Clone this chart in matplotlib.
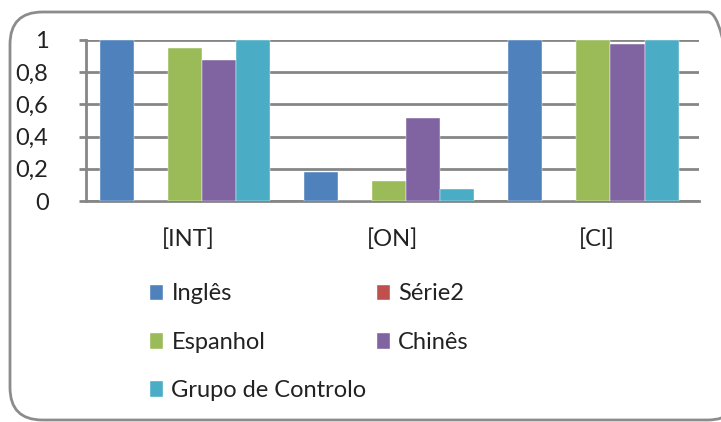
import matplotlib
matplotlib.use("Agg")
import matplotlib.pyplot as plt
from matplotlib.patches import FancyBboxPatch, Patch
import numpy as np

categories = ["[INT]", "[ON]", "[Cl]"]
series_names = ["Inglês", "Série2", "Espanhol", "Chinês", "Grupo de Controlo"]
ingles = [1.0, 0.18, 1.0]
serie2 = [0.0, 0.0, 0.0]
espanhol = [0.952, 0.124, 1.0]
chines = [0.874, 0.516, 0.973]
grupo = [1.0, 0.076, 1.0]
colors = ["#4F81BD", "#C0504D", "#9BBB59", "#8064A2", "#4BACC6"]
yticks = [0, 0.2, 0.4, 0.6, 0.8, 1]
ytick_labels = ["0", "0,2", "0,4", "0,6", "0,8", "1"]

plt.rcParams["font.family"] = ["Lato", "DejaVu Sans"]

W, H = 721, 422
fig = plt.figure(figsize=(W / 100, H / 100), dpi=100)

# rounded chart border (partly cut off on the right, like the source)
frame = FancyBboxPatch((10 / W, 2 / H), 730 / W, 408 / H,
                       boxstyle="round,pad=0,rounding_size=0.045",
                       transform=fig.transFigure, fill=False,
                       edgecolor="#8c8c8c", linewidth=2, mutation_aspect=W / H)
fig.patches.append(frame)

ax = fig.add_axes([86 / W, 1 - 201 / H, (699 - 86) / W, (201 - 40) / H])

x = np.arange(len(categories))
bw = 1 / 6
all_series = [ingles, serie2, espanhol, chines, grupo]
for i, vals in enumerate(all_series):
    ax.bar(x + (i - 2.1) * bw, vals, width=bw, color=colors[i],
           edgecolor="white", linewidth=0.3, zorder=3)

ax.set_xlim(-0.5, 2.5)
ax.set_ylim(0, 1)
ax.set_yticks(yticks)
ax.set_yticklabels(ytick_labels, fontsize=17, color="#222222")
ax.set_xticks(x)
ax.set_xticklabels(categories, fontsize=17, color="#222222")
ax.tick_params(axis="x", length=0, pad=20)
ax.tick_params(axis="y", length=5, width=2, color="#868686", pad=22)
ax.grid(axis="y", color="#868686", linewidth=2, zorder=0)
for s in ["top", "right"]:
    ax.spines[s].set_visible(False)
ax.spines["left"].set_color("#868686")
ax.spines["left"].set_linewidth(2)
ax.spines["bottom"].set_color("#868686")
ax.spines["bottom"].set_linewidth(2)

handles = [Patch(facecolor=colors[i], edgecolor="white") for i in range(5)]
order = [0, 2, 4, 1, 3]
leg = fig.legend([handles[i] for i in order], [series_names[i] for i in order],
                 loc="upper left", bbox_to_anchor=(140 / W, 1 - 274 / H),
                 ncol=2, frameon=False, fontsize=17, handlelength=0.58,
                 handleheight=0.7, handletextpad=0.35, columnspacing=0.4,
                 labelspacing=1.15, borderaxespad=0)
for t in leg.get_texts():
    t.set_color("#222222")

fig.savefig("out.png", dpi=100)
